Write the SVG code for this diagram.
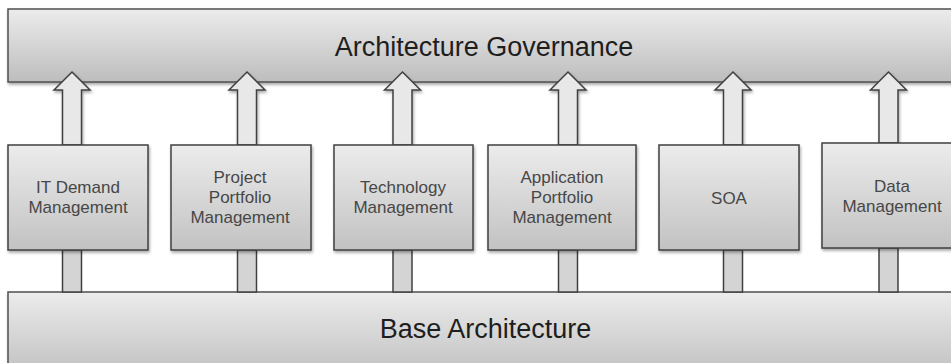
<svg xmlns="http://www.w3.org/2000/svg" width="951" height="363" viewBox="0 0 951 363">
<defs>
<linearGradient id="gBar" x1="0" y1="0" x2="0" y2="1">
<stop offset="0" stop-color="#ececec"/>
<stop offset="1" stop-color="#bdbdbd"/>
</linearGradient>
<linearGradient id="gBox" x1="0" y1="0" x2="0" y2="1">
<stop offset="0" stop-color="#ececec"/>
<stop offset="1" stop-color="#c2c2c2"/>
</linearGradient>
<filter id="sh" x="-10%" y="-10%" width="130%" height="140%">
<feDropShadow dx="1" dy="2" stdDeviation="1.5" flood-color="#000" flood-opacity="0.35"/>
</filter>
<style>
.bar{fill:url(#gBar);stroke:#505050;stroke-width:1.5;filter:url(#sh)}
.box{fill:url(#gBox);stroke:#404040;stroke-width:1.5;filter:url(#sh)}
.arrow{fill:#e8e8e8;stroke:#404040;stroke-width:1.5;stroke-linejoin:miter;filter:url(#sh)}
.shaft{fill:#d4d4d4;stroke:#404040;stroke-width:1.5}
.big{font-family:"Liberation Sans",Arial,sans-serif;font-size:27px;fill:#1e1e1e;text-anchor:middle}
.lbl{font-family:"Liberation Sans",Arial,sans-serif;font-size:17px;fill:#474747;text-anchor:middle}
</style>
</defs>
<g id="base-architecture">
<rect class="bar" x="8" y="292" width="960" height="90"/>
<text class="big" x="485.5" y="338" font-size="26.5">Base Architecture</text>
</g>
<g id="architecture-governance">
<rect class="bar" x="8" y="9" width="960" height="73"/>
<text class="big" x="484" y="56">Architecture Governance</text>
</g>
<g id="connectors">
<rect class="shaft" x="62.5" y="250" width="19" height="42"/>
<rect class="shaft" x="237.5" y="250" width="19" height="42"/>
<rect class="shaft" x="393" y="250" width="19" height="42"/>
<rect class="shaft" x="558.5" y="250" width="19" height="42"/>
<rect class="shaft" x="723.5" y="250" width="19" height="42"/>
<rect class="shaft" x="879" y="248" width="19" height="44"/>
<path class="arrow" d="M72 72 L90 90 L81.5 90 L81.5 145 L62.5 145 L62.5 90 L54 90 Z"/>
<path class="arrow" d="M247 72 L265 90 L256.5 90 L256.5 145 L237.5 145 L237.5 90 L229 90 Z"/>
<path class="arrow" d="M402.5 72 L420.5 90 L412 90 L412 145 L393 145 L393 90 L384.5 90 Z"/>
<path class="arrow" d="M568 72 L586 90 L577.5 90 L577.5 145 L558.5 145 L558.5 90 L550 90 Z"/>
<path class="arrow" d="M733 72 L751 90 L742.5 90 L742.5 145 L723.5 145 L723.5 90 L715 90 Z"/>
<path class="arrow" d="M888.5 72 L906.5 90 L898 90 L898 143 L879 143 L879 90 L870.5 90 Z"/>
</g>
<g id="it-demand-management">
<rect class="box" x="8" y="145" width="140" height="105"/>
<text class="lbl" x="78" y="193">IT Demand</text>
<text class="lbl" x="78" y="213">Management</text>
</g>
<g id="project-portfolio-management">
<rect class="box" x="171" y="145" width="140" height="105"/>
<text class="lbl" x="240" y="183">Project</text>
<text class="lbl" x="240" y="203">Portfolio</text>
<text class="lbl" x="240" y="223">Management</text>
</g>
<g id="technology-management">
<rect class="box" x="334" y="145" width="139" height="105"/>
<text class="lbl" x="403" y="193">Technology</text>
<text class="lbl" x="403" y="213">Management</text>
</g>
<g id="application-portfolio-management">
<rect class="box" x="488" y="145" width="148" height="105"/>
<text class="lbl" x="562" y="183">Application</text>
<text class="lbl" x="562" y="203">Portfolio</text>
<text class="lbl" x="562" y="223">Management</text>
</g>
<g id="soa">
<rect class="box" x="659" y="145" width="140" height="105"/>
<text class="lbl" x="729" y="204">SOA</text>
</g>
<g id="data-management">
<rect class="box" x="822" y="143" width="140" height="105"/>
<text class="lbl" x="892" y="192">Data</text>
<text class="lbl" x="892" y="212">Management</text>
</g>
</svg>
